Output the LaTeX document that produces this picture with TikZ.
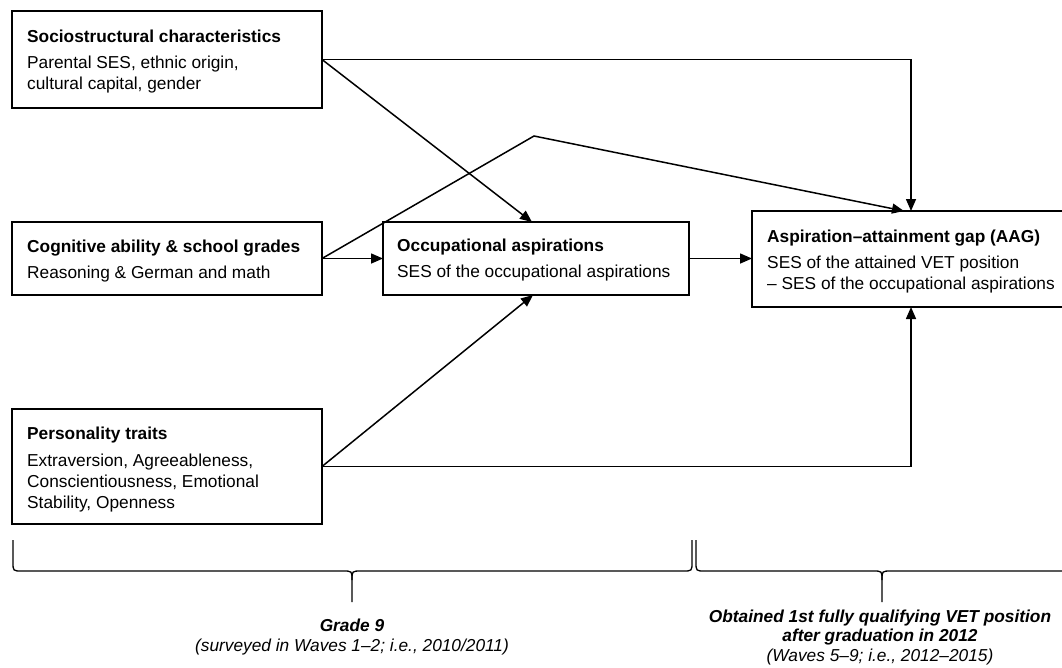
\documentclass[tikz,border=0pt]{standalone}
\usepackage{fontspec}
\setmainfont{Liberation Sans}
\usetikzlibrary{arrows.meta}
\begin{document}
\begin{tikzpicture}[x=1pt,y=-1pt,
  box/.style={draw, line width=1.5pt, rectangle, inner sep=0pt, outer sep=0pt, anchor=north west},
  txt/.style={anchor=base west, inner sep=0pt, font=\fontsize{17.3}{21}\selectfont},
  captxt/.style={anchor=base, inner sep=0pt, font=\fontsize{17.3}{19.5}\selectfont},
  conn/.style={line width=1.5pt, -{Triangle[length=12pt,width=10pt]}},
  bracepath/.style={line width=1.3pt, line join=round},
]
\fill[white] (0,0) rectangle (1062,667);
\useasboundingbox (0,0) rectangle (1062,667);
\clip (0,0) rectangle (1062,667);

% boxes
\node[box, minimum width=310pt, minimum height=97pt] (S) at (12,11) {};
\node[box, minimum width=310pt, minimum height=73pt] (C) at (12,222) {};
\node[box, minimum width=306pt, minimum height=73pt] (O) at (383,222) {};
\node[box, minimum width=318pt, minimum height=96pt] (A) at (752,211) {};
\node[box, minimum width=310pt, minimum height=115pt] (P) at (12,409) {};

% box texts
\node[txt] (S-t) at (27,42) {\bfseries Sociostructural characteristics};
\node[txt] (S-b) at (27,68) {\begin{tabular}[t]{@{}l@{}}Parental SES, ethnic origin,\\ cultural capital, gender\end{tabular}};
\node[txt] (C-t) at (27,252) {\bfseries Cognitive ability \& school grades};
\node[txt] (C-b) at (27,278) {Reasoning \& German and math};
\node[txt] (O-t) at (397,251) {\bfseries Occupational aspirations};
\node[txt] (O-b) at (397,277) {SES of the occupational aspirations};
\node[txt] (A-t) at (767,242) {\bfseries Aspiration–attainment gap (AAG)};
\node[txt] (A-b) at (767,268) {\begin{tabular}[t]{@{}l@{}}SES of the attained VET position\\ – SES of the occupational aspirations\end{tabular}};
\node[txt] (P-t) at (27,439) {\bfseries Personality traits};
\node[txt] (P-b) at (27,466) {\begin{tabular}[t]{@{}l@{}}Extraversion, Agreeableness,\\ Conscientiousness, Emotional\\ Stability, Openness\end{tabular}};

% connectors
\coordinate (kink) at (534,136);
\draw[conn] (S.east) -| (A.north);
\draw[conn] (S.east) -- ([xshift=-4pt]O.north);
\draw[conn] (C.east) -- (O.west);
\draw[conn] (C.east) -- (kink) -- ([xshift=-7pt]A.north);
\draw[conn] (O.east) -- (O.east -| A.west);
\draw[conn] (P.east) -- ([xshift=-3pt]O.south);
\draw[conn] (P.east) -| (A.south);

% braces
\draw[bracepath] (13,540) -- (13,562) .. controls (13,571) .. (22,571) -- (343,571)
  .. controls (352,571) .. (352,580) -- (352,602);
\draw[bracepath] (352,580) .. controls (352,571) .. (361,571) -- (683,571)
  .. controls (692,571) .. (692,562) -- (692,540);
\draw[bracepath] (696,540) -- (696,562) .. controls (696,571) .. (705,571) -- (873,571)
  .. controls (882,571) .. (882,580) -- (882,602);
\draw[bracepath] (882,580) .. controls (882,571) .. (891,571) -- (1070,571);

% captions
\node[captxt] (g9) at (352,631.5) {\begin{tabular}[t]{@{}c@{}}\textbf{\textit{Grade 9}}\\ \textit{(surveyed in Waves 1–2; i.e., 2010/2011)}\end{tabular}};
\node[captxt] (vet) at (880,622) {\begin{tabular}[t]{@{}c@{}}\textbf{\textit{Obtained 1st fully qualifying VET position}}\\ \textbf{\textit{after graduation in 2012}}\\ \textit{(Waves 5–9; i.e., 2012–2015)}\end{tabular}};
\end{tikzpicture}
\end{document}
